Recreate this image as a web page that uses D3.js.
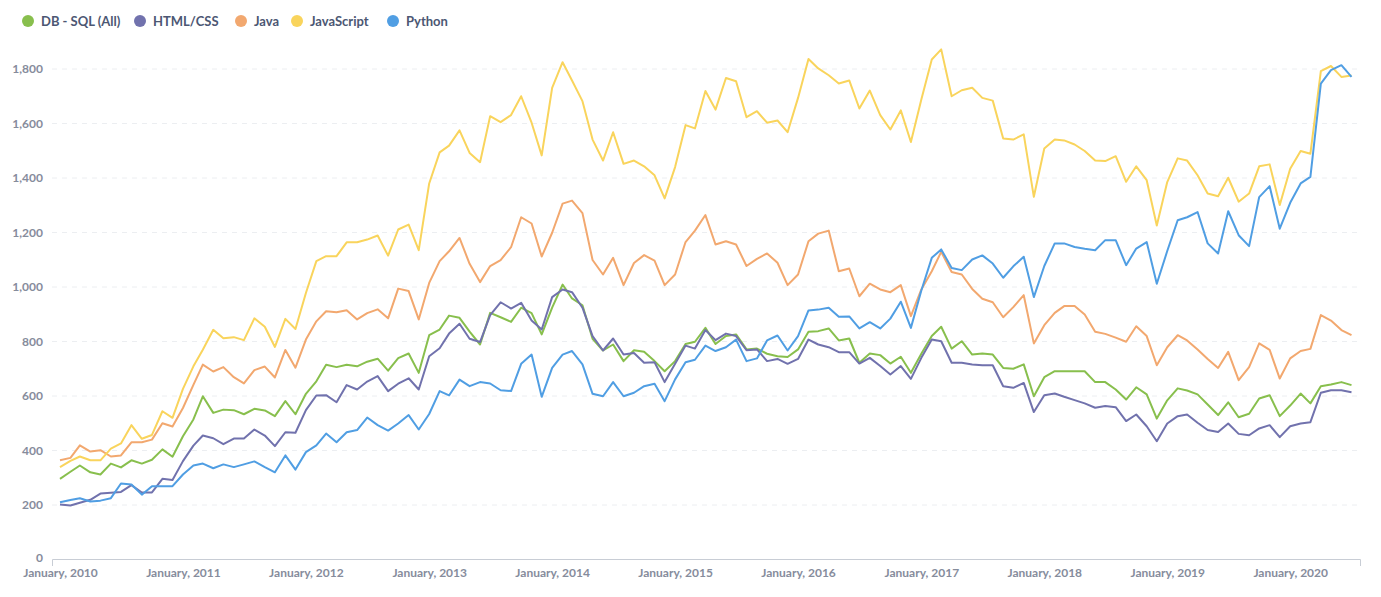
<!DOCTYPE html>
<html>
<head>
<meta charset="utf-8">
<script src="https://cdn.jsdelivr.net/npm/d3@7"></script>
<style>
  body { margin: 0; background: #fff; font-family: Lato, "Open Sans", sans-serif; }
  .tick text { font-family: Lato, sans-serif; font-weight: 700; fill: #868c9c; }
  .legend-text { font-family: Lato, sans-serif; font-weight: 700; font-size: 13px; fill: #4c5773; }
</style>
</head>
<body>
<div id="chart"></div>
<script>
const seriesNames = ["DB - SQL (All)", "HTML/CSS", "Java", "JavaScript", "Python"];
const seriesColors = ["#88bf4d", "#7172ad", "#f2a86f", "#f9d45c", "#509ee3"];

const sqlValues = [
  296, 322, 345, 320, 312, 352, 338, 364, 352, 366, 404, 377, 452, 514, 599, 538, 550, 548, 533, 553,
  547, 526, 581, 533, 608, 654, 715, 706, 715, 709, 726, 737, 693, 739, 756, 685, 823, 844, 895, 887,
  836, 789, 905, 889, 872, 924, 904, 826, 924, 1009, 958, 933, 810, 767, 789, 728, 768, 762,
  728, 691, 728, 791, 799, 850, 791, 820, 826, 771, 774, 755, 746, 743, 771, 836, 838, 848, 804,
  811, 722, 756, 750, 719, 744, 685, 755, 820, 854, 774, 801, 752, 756, 752, 703, 700, 716, 599,
  669, 691, 691, 691, 691, 651, 651, 624, 587, 632, 606, 517, 584, 628, 620, 606, 569, 530, 577,
  522, 535, 591, 603, 526, 565, 609, 573, 636, 642, 651, 640
];
const htmlValues = [
  202, 198, 208, 219, 242, 245, 248, 273, 246, 246, 296, 292, 361, 418, 455, 445, 423, 444, 444, 477,
  455, 416, 467, 465, 548, 602, 603, 577, 640, 624, 653, 673, 618, 645, 665, 624, 746, 775, 829, 865,
  810, 798, 897, 944, 921, 942, 877, 844, 963, 991, 981, 924, 820, 767, 811, 752, 758, 722,
  724, 651, 718, 785, 774, 842, 805, 829, 820, 768, 771, 728, 736, 718, 736, 807, 789, 779, 761,
  761, 719, 740, 710, 679, 710, 663, 740, 807, 801, 722, 722, 716, 713, 713, 636, 630, 648, 541,
  603, 609, 597, 585, 573, 557, 563, 559, 508, 532, 489, 434, 499, 526, 532, 502, 475, 468, 499,
  461, 456, 481, 493, 449, 489, 499, 504, 612, 621, 621, 614
];
const javaValues = [
  364, 373, 419, 396, 401, 378, 382, 430, 430, 440, 500, 488, 556, 641, 715, 690, 706, 669, 646, 695,
  708, 668, 769, 704, 807, 874, 911, 907, 915, 881, 904, 918, 885, 994, 985, 881, 1015, 1095, 1131, 1180,
  1085, 1018, 1077, 1099, 1146, 1256, 1233, 1112, 1199, 1306, 1317, 1271, 1099, 1046, 1107, 1007, 1088, 1117,
  1097, 1007, 1046, 1165, 1207, 1264, 1156, 1168, 1156, 1077, 1103, 1123, 1089, 1007, 1046, 1168, 1196, 1207, 1058,
  1068, 966, 1012, 991, 981, 1007, 893, 991, 1058, 1129, 1055, 1046, 993, 957, 944, 889, 926, 970, 793,
  860, 905, 930, 930, 899, 836, 828, 814, 799, 856, 820, 713, 779, 823, 804, 771, 736, 703, 762,
  658, 706, 793, 769, 664, 738, 765, 773, 897, 877, 842, 823
];
const jsValues = [
  339, 362, 378, 364, 364, 407, 426, 493, 443, 457, 544, 520, 626, 709, 770, 843, 812, 816, 805, 885,
  854, 780, 883, 846, 978, 1095, 1113, 1113, 1164, 1164, 1174, 1189, 1115, 1211, 1229, 1135, 1380, 1494, 1519, 1575,
  1492, 1458, 1627, 1605, 1631, 1700, 1603, 1483, 1731, 1825, 1758, 1682, 1541, 1464, 1568, 1452, 1464, 1443,
  1410, 1325, 1440, 1594, 1582, 1719, 1651, 1767, 1755, 1623, 1645, 1603, 1611, 1568, 1694, 1837, 1802, 1777, 1747,
  1758, 1655, 1721, 1631, 1578, 1648, 1532, 1688, 1835, 1872, 1700, 1722, 1731, 1694, 1684, 1545, 1541, 1560, 1331,
  1508, 1541, 1538, 1523, 1499, 1464, 1462, 1480, 1386, 1443, 1392, 1226, 1385, 1472, 1464, 1410, 1343, 1333, 1401,
  1313, 1343, 1443, 1450, 1301, 1434, 1499, 1489, 1792, 1811, 1771, 1776
];
const pythonValues = [
  210, 218, 225, 213, 216, 225, 279, 275, 238, 269, 269, 269, 312, 345, 352, 335, 349, 339, 349, 360,
  339, 320, 382, 330, 394, 419, 462, 430, 467, 475, 521, 493, 473, 499, 530, 477, 534, 618, 602, 660,
  636, 651, 646, 621, 618, 718, 752, 597, 703, 752, 765, 716, 608, 599, 651, 599, 612, 636,
  645, 581, 661, 724, 733, 785, 765, 779, 807, 728, 738, 804, 822, 767, 820, 914, 917, 924, 891,
  892, 848, 871, 848, 884, 946, 850, 987, 1107, 1138, 1070, 1062, 1101, 1116, 1086, 1034, 1076, 1111, 963,
  1077, 1160, 1160, 1147, 1140, 1135, 1172, 1172, 1080, 1141, 1165, 1012, 1132, 1245, 1256, 1275, 1160, 1123, 1278,
  1190, 1150, 1330, 1370, 1214, 1309, 1380, 1404, 1746, 1796, 1814, 1771
];

const yTicks = [0, 200, 400, 600, 800, 1000, 1200, 1400, 1600, 1800];
const xTickLabels = [
  "January, 2010", "January, 2011", "January, 2012", "January, 2013", "January, 2014", "January, 2015",
  "January, 2016", "January, 2017", "January, 2018", "January, 2019", "January, 2020"
];

const allValues = [sqlValues, htmlValues, javaValues, jsValues, pythonValues];
const months = d3.timeMonth.range(new Date(2010, 0, 1), new Date(2010, 0 + sqlValues.length, 1));
const series = seriesNames.map((name, i) => ({
  name,
  color: seriesColors[i],
  values: allValues[i].map((v, j) => ({ date: months[j], value: v }))
}));

const width = 1381;
const height = 597;

const svg = d3.select("#chart")
  .append("svg")
  .attr("width", width)
  .attr("height", height);

const x = d3.scaleTime()
  .domain([months[0], months[months.length - 1]])
  .range([60, 1351.5]);

const y = d3.scaleLinear()
  .domain([0, 1800])
  .range([559.5, 69]);

// gridlines
svg.append("g")
  .selectAll("line")
  .data(yTicks.filter((d) => d > 0))
  .enter()
  .append("line")
  .attr("x1", 52)
  .attr("x2", 1360)
  .attr("y1", (d) => y(d))
  .attr("y2", (d) => y(d))
  .attr("stroke", "#eceef1")
  .attr("stroke-dasharray", "5,5");

const yAxis = svg.append("g")
  .attr("transform", "translate(52,0)")
  .call(d3.axisLeft(y).tickValues(yTicks).tickSize(0).tickPadding(9).tickFormat(d3.format(",")));
yAxis.select(".domain").remove();
yAxis.selectAll("text").style("font-size", "12px");
// lift the zero label a touch so it clears the first date label
yAxis.selectAll(".tick").filter((d) => d === 0).select("text").attr("dy", "0.2em");

const xTickDates = xTickLabels.map((d) => new Date(+d.slice(-4), 0, 1));
const xAxis = svg.append("g")
  .attr("transform", "translate(0,559.5)")
  .call(d3.axisBottom(x).tickValues(xTickDates).tickSize(0).tickPadding(9)
    .tickFormat((d, i) => xTickLabels[i]));
xAxis.select(".domain").remove();
xAxis.selectAll("text").style("font-size", "12px");

svg.append("path")
  .attr("d", "M52.5,566V559.5H1360.5V566")
  .attr("fill", "none")
  .attr("stroke", "#c8cdd5");

const line = d3.line()
  .x((d) => x(d.date))
  .y((d) => y(d.value));

svg.append("g")
  .selectAll("path")
  .data(series)
  .enter()
  .append("path")
  .attr("d", (d) => line(d.values))
  .attr("fill", "none")
  .attr("stroke", (d) => d.color)
  .attr("stroke-width", 2)
  .attr("stroke-linejoin", "round");

// legend
const legendX = [28, 140, 241, 297, 393];
const legend = svg.append("g")
  .selectAll("g")
  .data(series)
  .enter()
  .append("g")
  .attr("transform", (d, i) => `translate(${legendX[i]},21)`);

legend.append("circle")
  .attr("r", 6)
  .attr("fill", (d) => d.color);

legend.append("text")
  .attr("class", "legend-text")
  .attr("x", 13)
  .attr("dy", "0.35em")
  .text((d) => d.name);
</script>
</body>
</html>
